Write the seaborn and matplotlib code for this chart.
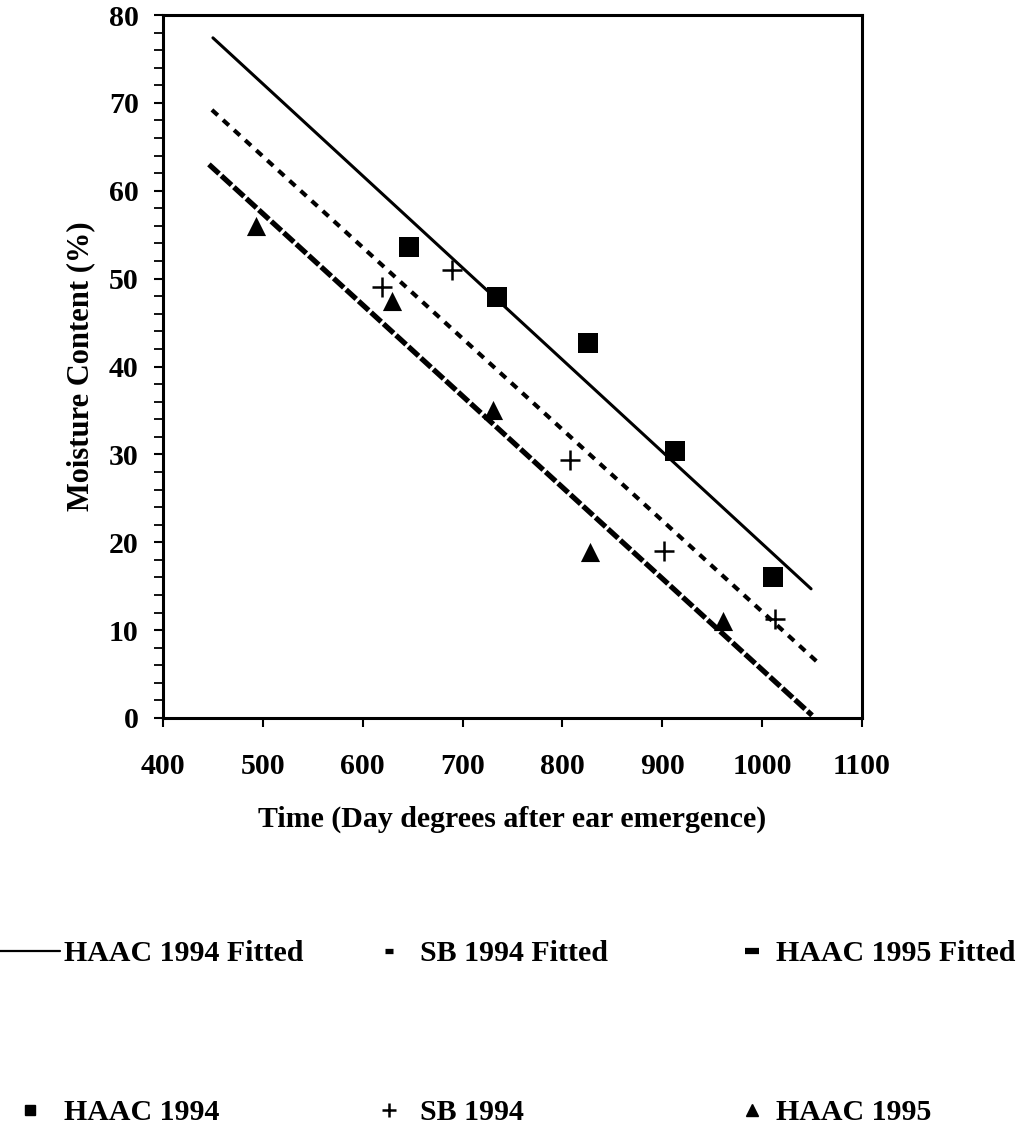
import numpy as np
import pandas as pd
import matplotlib
matplotlib.use("Agg")
import matplotlib.pyplot as plt
from matplotlib.lines import Line2D
from matplotlib.ticker import MultipleLocator
import seaborn as sns

# ---- data ----
haac94_x = [646, 734, 826, 913, 1011]
haac94_y = [53.6, 47.9, 42.7, 30.4, 16.0]

sb94_x = [619, 689, 808, 902, 1013]
sb94_y = [49.1, 51.0, 29.4, 19.0, 11.3]

haac95_x = [493, 629, 730, 828, 961]
haac95_y = [56.0, 47.5, 35.0, 18.9, 11.0]

haac94_fit_x = [450, 1049]
haac94_fit_y = [77.4, 14.7]
sb94_fit_x = [449, 1055]
sb94_fit_y = [69.2, 6.4]
haac95_fit_x = [446, 1050]
haac95_fit_y = [63.0, 0.3]

x_ticks = [400, 500, 600, 700, 800, 900, 1000, 1100]
y_ticks = [0, 10, 20, 30, 40, 50, 60, 70, 80]

sns.set_theme(style="white")
plt.rcParams["font.family"] = ["Liberation Serif", "DejaVu Serif"]
plt.rcParams["font.weight"] = "bold"
plt.rcParams["text.color"] = "black"
plt.rcParams["axes.labelcolor"] = "black"
plt.rcParams["xtick.color"] = "black"
plt.rcParams["ytick.color"] = "black"

FS = 21.5
W, H = 1030, 1135
fig = plt.figure(figsize=(W / 100, H / 100), dpi=100)
ax = fig.add_axes([163 / W, 1 - 718 / H, (862 - 163) / W, (718 - 15) / H])

pts = pd.DataFrame({
    "x": haac94_x + sb94_x + haac95_x,
    "y": haac94_y + sb94_y + haac95_y,
    "series": ["HAAC 1994"] * 5 + ["SB 1994"] * 5 + ["HAAC 1995"] * 5,
})

sns.lineplot(x=haac94_fit_x, y=haac94_fit_y, ax=ax, color="black", linewidth=2.2)
sns.lineplot(x=sb94_fit_x, y=sb94_fit_y, ax=ax, color="black", linewidth=3.0,
             linestyle=(0, (1.9, 1.7)))
sns.lineplot(x=haac95_fit_x, y=haac95_fit_y, ax=ax, color="black", linewidth=3.8,
             linestyle=(0, (2.6, 0.6)))

sns.scatterplot(data=pts[pts.series == "HAAC 1994"], x="x", y="y", ax=ax,
                marker="s", s=190, color="black", edgecolor="black", linewidth=0)
sns.scatterplot(data=pts[pts.series == "SB 1994"], x="x", y="y", ax=ax,
                marker="+", s=200, color="black", linewidth=1.8)
sns.scatterplot(data=pts[pts.series == "HAAC 1995"], x="x", y="y", ax=ax,
                marker="^", s=190, color="black", edgecolor="black", linewidth=0)

ax.set_xlim(400, 1100)
ax.set_ylim(0, 80)
ax.set_xticks(x_ticks)
ax.set_yticks(y_ticks)
ax.yaxis.set_minor_locator(MultipleLocator(2))
ax.tick_params(axis="both", which="both", direction="out", color="black",
               labelsize=FS, width=1.5, labelcolor="black")
ax.tick_params(axis="y", which="both", length=6.5, left=True, pad=11)
ax.tick_params(axis="y", which="minor", width=1.3)
ax.tick_params(axis="x", which="major", length=6.5, bottom=True, pad=19)
ax.tick_params(axis="x", which="minor", bottom=False)
for lab in ax.get_xticklabels() + ax.get_yticklabels():
    lab.set_fontweight("bold")
for sp in ax.spines.values():
    sp.set_color("black")
    sp.set_linewidth(2.2)

ax.set_xlabel("Time (Day degrees after ear emergence)", fontsize=FS,
              fontweight="bold", labelpad=18)
ax.set_ylabel("Moisture Content (%)", fontsize=FS + 0.5, fontweight="bold",
              labelpad=10)

# ---- legend, three columns placed like the reference ----
h_line = Line2D([], [], color="black", linewidth=1.6)
h_sbfit = Line2D([], [], color="black", linestyle="none", marker="_",
                 markersize=6, markeredgewidth=3.8)
h_95fit = Line2D([], [], color="black", linestyle="none", marker="_",
                 markersize=10, markeredgewidth=4.5)
h_sq = Line2D([], [], color="black", linestyle="none", marker="s", markersize=7)
h_plus = Line2D([], [], color="black", linestyle="none", marker="+",
                markersize=10, markeredgewidth=1.8)
h_tri = Line2D([], [], color="black", linestyle="none", marker="^", markersize=8)

F_px = FS * 100 / 72
row1, row2 = 958, 1120
common = dict(frameon=False, prop={"size": FS, "weight": "bold"},
              labelspacing=(row2 - row1) / F_px - 1.0, borderaxespad=0, borderpad=0)
top_y = 1 - (row1 - 0.5 * 1.2 * F_px) / H
fig.legend([h_line, h_sq], ["HAAC 1994 Fitted", "HAAC 1994"],
           loc="upper left", bbox_to_anchor=(0 / W, top_y),
           handlelength=60 / F_px, handletextpad=4 / F_px, **common)
fig.legend([h_sbfit, h_plus], ["SB 1994 Fitted", "SB 1994"],
           loc="upper left", bbox_to_anchor=(367 / W, top_y),
           handlelength=44 / F_px, handletextpad=9 / F_px, **common)
fig.legend([h_95fit, h_tri], ["HAAC 1995 Fitted", "HAAC 1995"],
           loc="upper left", bbox_to_anchor=(734 / W, top_y),
           handlelength=36 / F_px, handletextpad=6 / F_px, **common)

fig.savefig("out.png", dpi=100, facecolor="white")
